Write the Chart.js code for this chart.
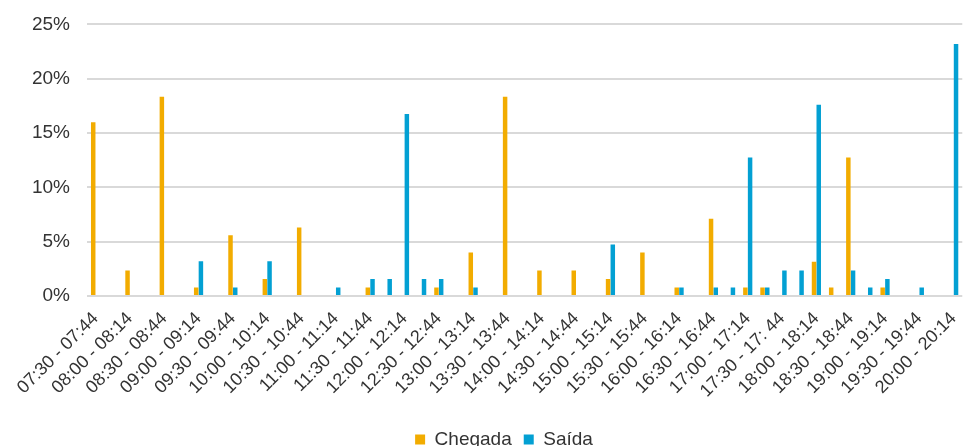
<!DOCTYPE html>
<html>
<head>
<meta charset="utf-8">
<script src="https://cdn.jsdelivr.net/npm/chart.js@4"></script>
<style>
  html, body { margin: 0; padding: 0; background: #fff; }
  #outer { width: 973px; height: 446px; overflow: hidden; }
  #wrap { width: 973px; height: 463px; margin-top: -4px; }
</style>
</head>
<body>
<div id="outer"><div id="wrap"><canvas id="chart"></canvas></div></div>
<script>
// 15-minute slots, 07:30 to 20:14
const slots = [
  "07:30 - 07:44", "07:45 - 07:59", "08:00 - 08:14", "08:15 - 08:29",
  "08:30 - 08:44", "08:45 - 08:59", "09:00 - 09:14", "09:15 - 09:29",
  "09:30 - 09:44", "09:45 - 09:59", "10:00 - 10:14", "10:15 - 10:29",
  "10:30 - 10:44", "10:45 - 10:59", "11:00 - 11:14", "11:15 - 11:29",
  "11:30 - 11:44", "11:45 - 11:59", "12:00 - 12:14", "12:15 - 12:29",
  "12:30 - 12:44", "12:45 - 12:59", "13:00 - 13:14", "13:15 - 13:29",
  "13:30 - 13:44", "13:45 - 13:59", "14:00 - 14:14", "14:15 - 14:29",
  "14:30 - 14:44", "14:45 - 14:59", "15:00 - 15:14", "15:15 - 15:29",
  "15:30 - 15:44", "15:45 - 15:59", "16:00 - 16:14", "16:15 - 16:29",
  "16:30 - 16:44", "16:45 - 16:59", "17:00 - 17:14", "17:15 - 17:29",
  "17:30 - 17: 44", "17:45 - 17:59", "18:00 - 18:14", "18:15 - 18:29",
  "18:30 - 18:44", "18:45 - 18:59", "19:00 - 19:14", "19:15 - 19:29",
  "19:30 - 19:44", "19:45 - 19:59", "20:00 - 20:14"
];

// percent of arrivals
const chegada = [
  16.0, 0, 2.35, 0, 18.35, 0, 0.78, 0, 5.6, 0,
  1.57, 0, 6.3, 0, 0, 0, 0.78, 0, 0, 0,
  0.78, 0, 4.0, 0, 18.35, 0, 2.35, 0, 2.35, 0,
  1.57, 0, 4.0, 0, 0.78, 0, 7.1, 0, 0.78, 0.78,
  0, 0, 3.15, 0.78, 12.75, 0, 0.78, 0, 0, 0,
  0
];

// percent of departures
const saida = [
  0, 0, 0, 0, 0, 0, 3.2, 0, 0.78, 0,
  3.2, 0, 0, 0, 0.78, 0, 1.57, 1.57, 16.75, 1.57,
  1.57, 0, 0.78, 0, 0, 0, 0, 0, 0, 0,
  4.75, 0, 0, 0, 0.78, 0, 0.78, 0.78, 12.75, 0.78,
  2.35, 2.35, 17.6, 0, 2.35, 0.78, 1.57, 0, 0.78, 0,
  23.2
];

const yTicks = [0, 5, 10, 15, 20, 25];

const txt = "#333333";
const fam = "'Liberation Sans', Arial, sans-serif";

// nudge the legend a little to the right, as in the original
const legendShift = {
  id: "legendShift",
  afterLayout(chart) {
    chart.legend.left += 20;
    chart.legend.right += 20;
  }
};

new Chart(document.getElementById("chart"), {
  type: "bar",
  data: {
    labels: slots,
    datasets: [
      { label: "Chegada", data: chegada, backgroundColor: "#F2AC00",
        categoryPercentage: 0.55, barPercentage: 0.95 },
      { label: "Saída", data: saida, backgroundColor: "#03A0D3",
        categoryPercentage: 0.55, barPercentage: 0.95 }
    ]
  },
  plugins: [legendShift],
  options: {
    responsive: true,
    maintainAspectRatio: false,
    animation: false,
    layout: { padding: { left: 0, right: 5, top: 13, bottom: 0 } },
    plugins: {
      legend: {
        position: "bottom",
        labels: { color: txt, font: { family: fam, size: 19 }, boxWidth: 10, boxHeight: 10, padding: 12 }
      },
      tooltip: { enabled: false }
    },
    scales: {
      x: {
        grid: { display: false },
        border: { display: false },
        afterFit: function (axis) { axis.height = 122; },
        ticks: {
          color: txt, font: { family: fam, size: 18 }, autoSkip: false,
          maxRotation: 45, minRotation: 45, padding: 4,
          callback: function (v, i) { return i % 2 === 0 ? slots[i] : ""; }
        }
      },
      y: {
        min: 0, max: 25,
        afterBuildTicks: function (axis) { axis.ticks = yTicks.map(v => ({ value: v })); },
        afterFit: function (axis) { axis.width = 87; },
        grid: { color: "#D9D9D9", lineWidth: 2, drawTicks: false },
        border: { display: false },
        ticks: {
          color: txt, font: { family: fam, size: 19 }, padding: 17,
          callback: v => v + "%"
        }
      }
    }
  }
});
</script>
</body>
</html>
